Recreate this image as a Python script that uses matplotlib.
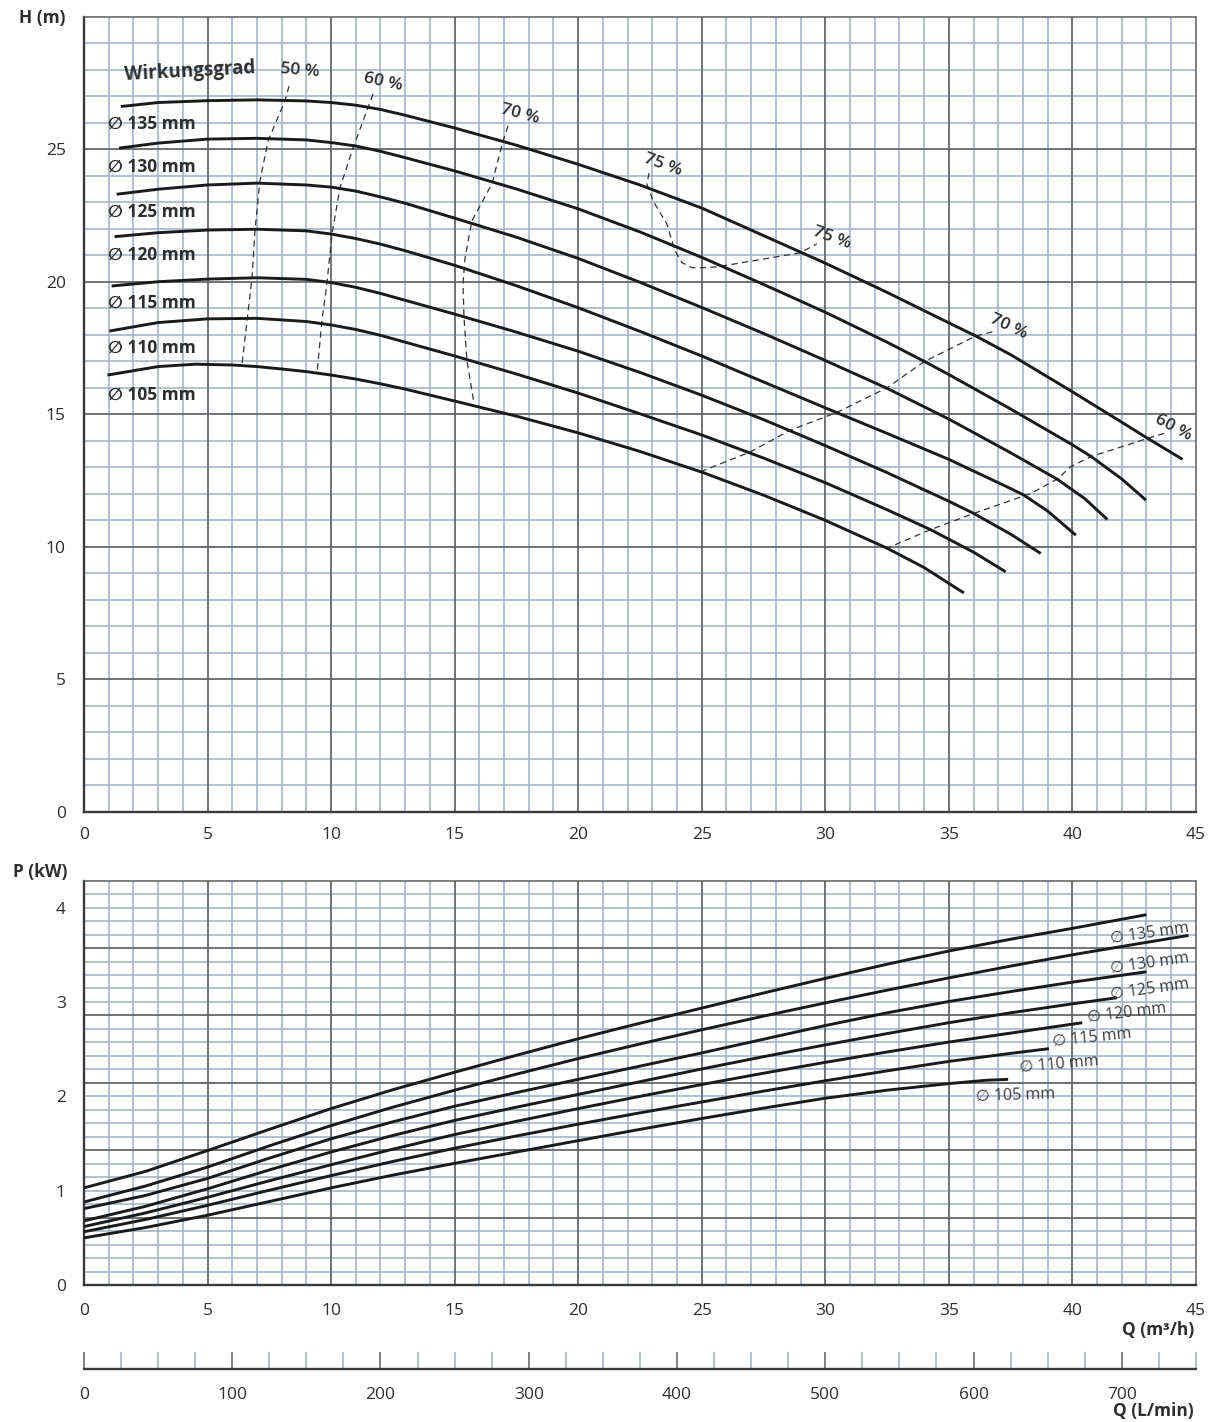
import matplotlib
matplotlib.use("Agg")
import matplotlib.pyplot as plt
import numpy as np

plt.rcParams['font.family'] = ['Open Sans', 'DejaVu Sans']

# =============== H-Q curves (top) ===============
diameters = ['135', '130', '125', '120', '115', '110', '105']

q_135 = [1.5, 3, 5, 7, 9, 10, 11, 12, 13, 15, 17.5, 20, 22.5, 25, 27, 30, 32.5, 35, 36.1, 37.5, 40, 42, 43, 44.46]
h_135 = [26.61, 26.76, 26.83, 26.86, 26.82, 26.76, 26.66, 26.5, 26.28, 25.8, 25.15, 24.43, 23.65, 22.78, 21.95,
         20.7, 19.6, 18.45, 17.95, 17.25, 15.85, 14.7, 14.12, 13.3]
q_130 = [1.42, 3, 5, 7, 9, 10, 11, 12, 13, 15, 17.5, 20, 22.5, 25, 27.5, 30, 32.5, 34, 35, 37.5, 40, 40.74, 42, 42.98]
h_130 = [25.04, 25.23, 25.38, 25.41, 25.35, 25.25, 25.12, 24.92, 24.68, 24.18, 23.5, 22.75, 21.88, 20.92, 19.9,
         18.85, 17.72, 17.0, 16.5, 15.2, 13.85, 13.42, 12.56, 11.76]
q_125 = [1.32, 3, 5, 7, 9, 10, 11, 12, 13, 15, 17.5, 20, 22.5, 25, 27.5, 30, 32.5, 35, 37.5, 39.39, 40.5, 41.42]
h_125 = [23.30, 23.49, 23.65, 23.72, 23.65, 23.57, 23.42, 23.2, 22.96, 22.4, 21.68, 20.88, 19.98, 19.03, 18.05,
         17.03, 15.98, 14.82, 13.55, 12.55, 11.82, 11.03]
q_120 = [1.24, 3, 5, 7, 9, 10, 11, 12, 13, 15, 17.5, 20, 22.5, 25, 27.5, 30.5, 32.5, 35, 37.5, 38.04, 39, 40.14]
h_120 = [21.70, 21.85, 21.95, 21.98, 21.92, 21.80, 21.63, 21.42, 21.17, 20.62, 19.85, 19.02, 18.13, 17.2, 16.22,
         15.05, 14.28, 13.3, 12.2, 11.95, 11.35, 10.44]
q_115 = [1.12, 3, 5, 7, 9, 10, 11, 12, 13, 15, 17.5, 20, 22.5, 25, 27.5, 30, 32.5, 35, 36.01, 37.5, 38.72]
h_115 = [19.84, 20.0, 20.1, 20.15, 20.09, 19.97, 19.79, 19.56, 19.3, 18.78, 18.1, 17.38, 16.58, 15.72, 14.8,
         13.82, 12.8, 11.72, 11.26, 10.48, 9.75]
q_110 = [1.03, 3, 5, 7, 9, 10, 11, 12, 13, 15, 17.5, 20, 22.5, 25, 27.5, 30, 32.5, 34.26, 36, 37.3]
h_110 = [18.14, 18.46, 18.6, 18.62, 18.5, 18.37, 18.2, 17.98, 17.72, 17.2, 16.52, 15.8, 15.02, 14.22, 13.35,
         12.42, 11.4, 10.65, 9.8, 9.06]
q_105 = [0.95, 3, 4.5, 6, 7, 8, 9, 10, 11, 12, 13, 15, 17.5, 20, 22.5, 25, 27.5, 30, 32.5, 34, 35.61]
h_105 = [16.48, 16.8, 16.89, 16.86, 16.8, 16.71, 16.61, 16.48, 16.33, 16.15, 15.95, 15.5, 14.93, 14.3, 13.6,
         12.82, 11.95, 11.0, 9.95, 9.22, 8.26]

hq_q = [q_135, q_130, q_125, q_120, q_115, q_110, q_105]
hq_h = [h_135, h_130, h_125, h_120, h_115, h_110, h_105]

# efficiency lines (Wirkungsgrad)
eff50_q = [8.30, 8.13, 7.45, 7.12, 6.92, 6.80, 6.60, 6.39]
eff50_h = [27.38, 26.82, 25.31, 23.80, 21.92, 20.15, 18.53, 16.84]
eff60a_q = [11.70, 10.89, 10.36, 10.04, 9.83, 9.63, 9.43]
eff60a_h = [27.08, 25.05, 23.54, 21.81, 19.92, 18.53, 16.53]
eff70a_q = [17.16, 16.96, 16.51, 15.70, 15.42, 15.34, 15.38, 15.50, 15.78]
eff70a_h = [25.88, 25.31, 23.69, 22.30, 20.90, 19.92, 18.64, 17.02, 15.44]
eff75_q = [22.87, 22.78, 23.03, 23.59, 23.92, 24.20, 24.61, 25.01, 25.62, 28.98, 29.66]
eff75_h = [24.10, 23.69, 23.05, 22.18, 21.17, 20.72, 20.53, 20.53, 20.56, 21.09, 21.43]
eff70b_q = [36.76, 36.08, 33.99, 32.5, 30.47, 28.58, 26.96, 25.0]
eff70b_h = [18.11, 17.95, 16.98, 16.0, 15.07, 14.4, 13.58, 12.85]
eff60b_q = [43.72, 43.04, 40.74, 39.93, 39.39, 38.31, 36.01, 34.26, 32.5]
eff60b_h = [14.28, 14.09, 13.4, 13.02, 12.56, 12.01, 11.26, 10.65, 9.95]

eff_q = [eff50_q, eff60a_q, eff70a_q, eff75_q, eff70b_q, eff60b_q]
eff_h = [eff50_h, eff60a_h, eff70a_h, eff75_h, eff70b_h, eff60b_h]

eff_labels = ['50 %', '60 %', '70 %', '75 %', '75 %', '70 %', '60 %']
eff_lab_q = [8.74, 12.1, 17.64, 23.43, 30.26, 37.4, 44.07]
eff_lab_h = [27.97, 27.54, 26.3, 24.4, 21.64, 18.3, 14.5]
eff_lab_rot = [-5, -12, -15, -20, -20, -25, -28]

dia_lab_h = [25.94, 24.34, 22.62, 21.01, 19.21, 17.49, 15.75]

# =============== P-Q curves (bottom) ===============
pq_q_135 = [0, 2.5, 5, 7.5, 10, 12.5, 15, 17.5, 20, 22.5, 25, 27.5, 30, 32.5, 35, 37.5, 40, 43]
p_135 = [1.03, 1.205, 1.425, 1.65, 1.87, 2.07, 2.255, 2.435, 2.61, 2.775, 2.935, 3.095, 3.25, 3.40, 3.54,
         3.665, 3.78, 3.925]
pq_q_130 = [0, 2.5, 5, 7.5, 10, 12.5, 15, 17.5, 20, 22.5, 25, 27.5, 30, 32.5, 35, 37.5, 40, 42.5, 44.7]
p_130 = [0.88, 1.05, 1.25, 1.475, 1.69, 1.885, 2.065, 2.235, 2.40, 2.555, 2.705, 2.85, 2.99, 3.125, 3.255,
         3.38, 3.5, 3.61, 3.705]
pq_q_125 = [0, 2.5, 5, 7.5, 10, 12.5, 15, 17.5, 20, 22.5, 25, 27.5, 30, 32.5, 35, 37.5, 40, 43]
p_125 = [0.81, 0.95, 1.13, 1.345, 1.55, 1.73, 1.895, 2.04, 2.18, 2.32, 2.46, 2.605, 2.75, 2.885, 3.005,
         3.11, 3.21, 3.32]
pq_q_120 = [0, 2.5, 5, 7.5, 10, 12.5, 15, 17.5, 20, 22.5, 25, 27.5, 30, 32.5, 35, 37.5, 40, 41.8]
p_120 = [0.68, 0.835, 1.02, 1.22, 1.41, 1.585, 1.745, 1.885, 2.02, 2.155, 2.29, 2.42, 2.545, 2.665, 2.78,
         2.885, 2.98, 3.045]
pq_q_115 = [0, 2.5, 5, 7.5, 10, 12.5, 15, 17.5, 20, 22.5, 25, 27.5, 30, 32.5, 35, 37.5, 40.4]
p_115 = [0.62, 0.765, 0.93, 1.105, 1.275, 1.44, 1.595, 1.735, 1.87, 2.0, 2.125, 2.245, 2.36, 2.47, 2.575,
         2.67, 2.78]
pq_q_110 = [0, 2.5, 5, 7.5, 10, 12.5, 15, 17.5, 20, 22.5, 25, 27.5, 30, 32.5, 35, 37.5, 39.05]
p_110 = [0.565, 0.695, 0.845, 1.005, 1.16, 1.31, 1.45, 1.58, 1.705, 1.825, 1.94, 2.055, 2.165, 2.27, 2.37,
         2.455, 2.505]
pq_q_105 = [0, 2.5, 5, 7.5, 10, 12.5, 15, 17.5, 20, 22.5, 25, 27.5, 30, 32.5, 35, 36.5, 37.4]
p_105 = [0.50, 0.61, 0.74, 0.885, 1.03, 1.165, 1.29, 1.41, 1.53, 1.65, 1.765, 1.875, 1.98, 2.065, 2.135,
         2.17, 2.18]

pq_q = [pq_q_135, pq_q_130, pq_q_125, pq_q_120, pq_q_115, pq_q_110, pq_q_105]
pq_p = [p_135, p_130, p_125, p_120, p_115, p_110, p_105]

p_lab_q = [43.14, 43.14, 43.14, 42.2, 40.8, 39.46, 37.68]
p_lab_p = [3.73, 3.41, 3.13, 2.88, 2.62, 2.34, 2.01]
p_lab_rot = [8, 8, 8, 7, 6, 5, 2]

# =============== styling ===============
minor_col = '#9eafc6'
major_col = '#5e5e5e'
spine_col = '#3a3a3a'
text_col = '#2e2e2e'
curve_col = '#1a1a1a'


def draw_grid(ax, xs, ys, xmajor, ymajor):
    for x in xs:
        ax.axvline(x, color=minor_col, lw=1.1, zorder=0)
    for y in ys:
        ax.axhline(y, color=minor_col, lw=1.1, zorder=0)
    for x in xmajor:
        ax.axvline(x, color=major_col, lw=1.1, zorder=0.5)
    for y in ymajor:
        ax.axhline(y, color=major_col, lw=1.1, zorder=0.5)
    for side in ['top', 'right']:
        ax.spines[side].set_color(major_col)
        ax.spines[side].set_linewidth(1.1)
    for side in ['left', 'bottom']:
        ax.spines[side].set_color(spine_col)
        ax.spines[side].set_linewidth(1.7)


fig = plt.figure(figsize=(12.08, 14.22), dpi=100)

# --------- top: H (m) ---------
ax1 = fig.add_axes([0.0695, 0.4290, 0.9205, 0.5593])
ax1.set_xlim(0, 45)
ax1.set_ylim(0, 30)
draw_grid(ax1, np.arange(1, 45), np.arange(1, 30), np.arange(5, 45, 5), np.arange(5, 30, 5))

for q, h in zip(hq_q, hq_h):
    ax1.plot(q, h, color=curve_col, lw=2.1, solid_capstyle='butt', solid_joinstyle='round', zorder=3)

for q, h in zip(eff_q, eff_h):
    ax1.plot(q, h, color='#333333', lw=0.9, dashes=(5, 3.5), zorder=2)

ax1.text(4.29, 27.93, 'Wirkungsgrad', fontsize=13.5, fontweight='bold', color=text_col,
         ha='center', va='center', rotation=3)
for lab, q, h, r in zip(eff_labels, eff_lab_q, eff_lab_h, eff_lab_rot):
    ax1.text(q, h, lab, fontsize=12.5, fontweight='semibold', color=text_col,
             ha='center', va='center', rotation=r, clip_on=False)

for d, h in zip(diameters, dia_lab_h):
    ax1.text(0.98, h, '\u2205 ' + d + ' mm', fontsize=12.5, fontweight='bold', color=text_col,
             ha='left', va='center')

ax1.set_xticks(np.arange(0, 46, 5))
ax1.set_yticks(np.arange(0, 26, 5))
ax1.tick_params(length=0, labelsize=12.5, labelcolor=text_col)
ax1.tick_params(axis='x', pad=11)
ax1.tick_params(axis='y', pad=13)

# --------- bottom: P (kW) ---------
pstep = 1 / 7
ax2 = fig.add_axes([0.0695, 0.0963, 0.9205, 0.2844])
ax2.set_xlim(0, 45)
ax2.set_ylim(0, 30 * pstep)
draw_grid(ax2, np.arange(1, 45), np.arange(1, 30) * pstep, np.arange(5, 45, 5), np.arange(5, 30, 5) * pstep)

for q, p in zip(pq_q, pq_p):
    ax2.plot(q, p, color=curve_col, lw=2.1, solid_capstyle='butt', solid_joinstyle='round', zorder=3)

for d, q, p, r in zip(diameters, p_lab_q, p_lab_p, p_lab_rot):
    ax2.text(q, p, '\u2205 ' + d + ' mm', fontsize=11.5, color='#3c3c3c',
             ha='center', va='center', rotation=r)

ax2.set_xticks(np.arange(0, 46, 5))
ax2.set_yticks(np.arange(0, 5, 1))
ax2.tick_params(length=0, labelsize=12.5, labelcolor=text_col)
ax2.tick_params(axis='x', pad=13)
ax2.tick_params(axis='y', pad=13)

# --------- L/min scale ---------
ax3 = fig.add_axes([0.0695, 0.0373, 0.9205, 0.012])
ax3.set_xlim(0, 750)
ax3.set_ylim(0, 1)
for side in ['top', 'right', 'left']:
    ax3.spines[side].set_visible(False)
ax3.spines['bottom'].set_color(spine_col)
ax3.spines['bottom'].set_linewidth(1.7)
ax3.set_yticks([])
ax3.set_xticks(np.arange(0, 701, 100))
ax3.set_xticks(np.arange(0, 751, 25), minor=True)
ax3.tick_params(axis='x', which='major', direction='in', length=12, width=1.1, color=major_col,
                labelsize=12.5, labelcolor=text_col, pad=13)
ax3.tick_params(axis='x', which='minor', direction='in', length=12, width=1.1, color=minor_col)
ax3.patch.set_alpha(0)

# axis titles
fig.text(0.0348, 0.9873, 'H (m)', fontsize=12.5, fontweight='bold', color=text_col, ha='center', va='center')
fig.text(0.0331, 0.3868, 'P (kW)', fontsize=12.5, fontweight='bold', color=text_col, ha='center', va='center')
fig.text(0.9884, 0.0647, 'Q (m\u00b3/h)', fontsize=12.5, fontweight='bold', color=text_col, ha='right', va='center')
fig.text(0.9884, 0.0075, 'Q (L/min)', fontsize=12.5, fontweight='bold', color=text_col, ha='right', va='center')

fig.savefig('out.png', dpi=100, facecolor='white')
